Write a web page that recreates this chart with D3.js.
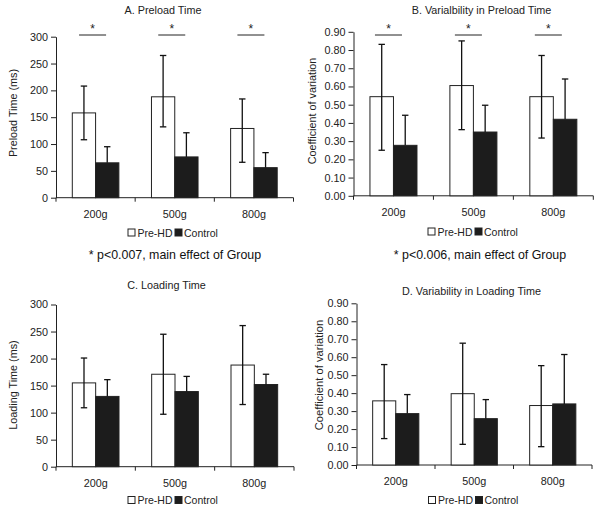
<!DOCTYPE html>
<html><head><meta charset="utf-8">
<script src="https://cdn.jsdelivr.net/npm/d3@7"></script>
<style>
html,body{margin:0;padding:0;background:#fff;}
svg{display:block;font-family:"Liberation Sans",Arial,sans-serif;}
</style></head>
<body>
<svg id="chart" width="600" height="508"></svg>
<script>
// ---------- data ----------
const categories = ["200g", "500g", "800g"];
const seriesNames = ["Pre-HD", "Control"];

const timeTicks = [0, 50, 100, 150, 200, 250, 300];
const cvTicks = [0, 0.1, 0.2, 0.3, 0.4, 0.5, 0.6, 0.7, 0.8, 0.9];

// A. Preload Time (ms)
const preloadPre   = [158, 188, 129];
const preloadPreHi = [208, 265, 184];
const preloadPreLo = [108, 132, 66];
const preloadCtl   = [65, 76, 56];
const preloadCtlHi = [95, 121, 84];

// B. Variability in Preload Time (CV)
const preloadCvPre   = [0.544, 0.605, 0.544];
const preloadCvPreHi = [0.831, 0.850, 0.770];
const preloadCvPreLo = [0.250, 0.363, 0.317];
const preloadCvCtl   = [0.277, 0.350, 0.420];
const preloadCvCtlHi = [0.442, 0.497, 0.641];

// C. Loading Time (ms)
const loadPre   = [155, 171, 188];
const loadPreHi = [201, 245, 261];
const loadPreLo = [109, 97, 115];
const loadCtl   = [130, 139, 152];
const loadCtlHi = [161, 167, 171];

// D. Variability in Loading Time (CV)
const loadCvPre   = [0.357, 0.397, 0.331];
const loadCvPreHi = [0.559, 0.678, 0.553];
const loadCvPreLo = [0.147, 0.115, 0.102];
const loadCvCtl   = [0.286, 0.258, 0.340];
const loadCvCtlHi = [0.392, 0.364, 0.615];

const sigMark = "*";
const noteA = "* p<0.007, main effect of Group";
const noteB = "* p<0.006, main effect of Group";

// ---------- drawing ----------
const svg = d3.select("#chart");
const TEXT = "#222";
const DARK = "#1c1c1c";

function drawPanel(c) {
  const g = svg.append("g");
  const x0 = d3.scaleBand().domain(categories).range([c.left, c.right]).paddingInner(0).paddingOuter(0);
  const x1 = d3.scaleBand().domain(seriesNames).range([0, x0.bandwidth()]).paddingInner(0).paddingOuter(0.70);
  const y = d3.scaleLinear().domain([0, c.max]).range([c.bottom, c.top]);

  // y axis
  const ya = d3.axisLeft(y).tickValues(c.ticks).tickFormat(c.fmt).tickSize(5).tickSizeOuter(0).tickPadding(3);
  const yg = g.append("g").attr("transform", `translate(${c.left},0)`).call(ya);
  yg.selectAll("path,line").attr("stroke", "#222").attr("stroke-width", 1);
  yg.selectAll("text").attr("fill", TEXT).style("font-size", "10.8px").attr("font-family", null);

  // x axis
  const xa = d3.axisBottom(x0).tickSize(0).tickPadding(12.5);
  const xg = g.append("g").attr("transform", `translate(0,${c.bottom})`).call(xa);
  xg.select("path").remove();
  xg.selectAll("text").attr("fill", TEXT).style("font-size", "10.8px").attr("font-family", null);
  g.append("line").attr("x1", c.left).attr("x2", c.right).attr("y1", c.bottom).attr("y2", c.bottom)
    .attr("stroke", "#222").attr("stroke-width", 1);
  const bounds = categories.map(d => x0(d)).concat([c.right]);
  g.selectAll(".xt").data(bounds).join("line")
    .attr("x1", d => d).attr("x2", d => d).attr("y1", c.bottom).attr("y2", c.bottom + 4)
    .attr("stroke", "#222").attr("stroke-width", 1);

  // bars
  const rows = categories.map((cat, i) => [
    {cat, s: "Pre-HD", v: c.pre[i], hi: c.preHi[i], lo: c.preLo[i]},
    {cat, s: "Control", v: c.ctl[i], hi: c.ctlHi[i], lo: null}
  ]).flat();
  g.selectAll(".bar").data(rows).join("rect")
    .attr("x", d => x0(d.cat) + x1(d.s))
    .attr("y", d => y(d.v))
    .attr("width", x1.bandwidth())
    .attr("height", d => y(0) - y(d.v))
    .attr("fill", d => d.s === "Pre-HD" ? "#fff" : DARK)
    .attr("stroke", "#222").attr("stroke-width", 1);

  // error bars (lower half of Control whisker is hidden inside the dark bar)
  const cx = d => x0(d.cat) + x1(d.s) + x1.bandwidth() / 2;
  const eb = g.selectAll(".eb").data(rows).join("g").attr("stroke", "#111").attr("stroke-width", 1.3);
  eb.append("line").attr("x1", cx).attr("x2", cx)
    .attr("y1", d => d.lo === null ? y(d.v) : y(d.lo)).attr("y2", d => y(d.hi));
  eb.append("line").attr("x1", d => cx(d) - 3.2).attr("x2", d => cx(d) + 3.2).attr("y1", d => y(d.hi)).attr("y2", d => y(d.hi));
  eb.filter(d => d.lo !== null).append("line").attr("x1", d => cx(d) - 3.2).attr("x2", d => cx(d) + 3.2)
    .attr("y1", d => y(d.lo)).attr("y2", d => y(d.lo));

  // significance marks
  if (c.sig) {
    categories.forEach(cat => {
      const m = x0(cat) + x0.bandwidth() / 2 + c.sigShift;
      g.append("line").attr("x1", m - 13.5).attr("x2", m + 13.5).attr("y1", c.sigY).attr("y2", c.sigY)
        .attr("stroke", "#222").attr("stroke-width", 1);
      g.append("text").attr("x", m).attr("y", c.sigY - 2).attr("text-anchor", "middle")
        .attr("fill", TEXT).style("font-size", "12px").text(sigMark);
    });
  }

  // title
  g.append("text").attr("x", c.titleX).attr("y", c.titleY).attr("text-anchor", "middle")
    .attr("fill", TEXT).style("font-size", "10.8px").text(c.title);

  // y label
  g.append("text").attr("transform", `translate(${c.ylabX},${c.ylabY}) rotate(-90)`)
    .attr("text-anchor", "middle").attr("fill", TEXT).style("font-size", c.ylabSize).text(c.ylabel);

  // legend
  const lg = g.append("g").attr("transform", `translate(${c.legX},${c.legY})`);
  lg.append("rect").attr("x", 0.5).attr("y", -7.5).attr("width", 7).attr("height", 7)
    .attr("fill", "#fff").attr("stroke", "#222").attr("stroke-width", 1);
  lg.append("text").attr("x", 10).attr("y", 0).attr("fill", TEXT).style("font-size", "10.5px").text(seriesNames[0]);
  lg.append("rect").attr("x", 47.5).attr("y", -7.5).attr("width", 7).attr("height", 7)
    .attr("fill", DARK).attr("stroke", "#222").attr("stroke-width", 1);
  lg.append("text").attr("x", 56.5).attr("y", 0).attr("fill", TEXT).style("font-size", "10.5px").text(seriesNames[1]);

  if (c.note) {
    g.append("text").attr("x", c.noteX).attr("y", c.noteY).attr("text-anchor", "middle")
      .attr("fill", "#111").style("font-size", "12.4px").text(c.note);
  }
}

const fmtInt = d3.format("d");
const fmt2 = d3.format(".2f");

drawPanel({left: 56, right: 293.5, top: 36.7, bottom: 197.7, max: 300, ticks: timeTicks, fmt: fmtInt,
  pre: preloadPre, preHi: preloadPreHi, preLo: preloadPreLo, ctl: preloadCtl, ctlHi: preloadCtlHi,
  sig: true, sigY: 35, sigShift: -3, title: "A. Preload Time", titleX: 163, titleY: 14,
  ylabel: "Preload Time (ms)", ylabX: 17, ylabY: 113, ylabSize: "10.8px",
  legX: 127.5, legY: 236.5, note: noteA, noteX: 175, noteY: 259});

drawPanel({left: 353.5, right: 593.3, top: 31.8, bottom: 195.8, max: 0.9, ticks: cvTicks, fmt: fmt2,
  pre: preloadCvPre, preHi: preloadCvPreHi, preLo: preloadCvPreLo, ctl: preloadCvCtl, ctlHi: preloadCvCtlHi,
  sig: true, sigY: 35, sigShift: -5, title: "B. Varialbility in Preload Time", titleX: 481.5, titleY: 14,
  ylabel: "Coefficient of variation", ylabX: 315.5, ylabY: 111, ylabSize: "10.8px",
  legX: 427.5, legY: 235.5, note: noteB, noteX: 480, noteY: 259});

drawPanel({left: 56, right: 294, top: 304.5, bottom: 466.7, max: 300, ticks: timeTicks, fmt: fmtInt,
  pre: loadPre, preHi: loadPreHi, preLo: loadPreLo, ctl: loadCtl, ctlHi: loadCtlHi,
  sig: false, title: "C. Loading Time", titleX: 166.5, titleY: 289,
  ylabel: "Loading Time (ms)", ylabX: 17, ylabY: 385, ylabSize: "10.8px",
  legX: 127.5, legY: 504});

drawPanel({left: 356.5, right: 592, top: 303.3, bottom: 465, max: 0.9, ticks: cvTicks, fmt: fmt2,
  pre: loadCvPre, preHi: loadCvPreHi, preLo: loadCvPreLo, ctl: loadCvCtl, ctlHi: loadCvCtlHi,
  sig: false, title: "D. Variability in Loading Time", titleX: 471.5, titleY: 295,
  ylabel: "Coefficient of variation", ylabX: 323, ylabY: 375, ylabSize: "11.2px",
  legX: 428, legY: 504});
</script>
</body></html>
